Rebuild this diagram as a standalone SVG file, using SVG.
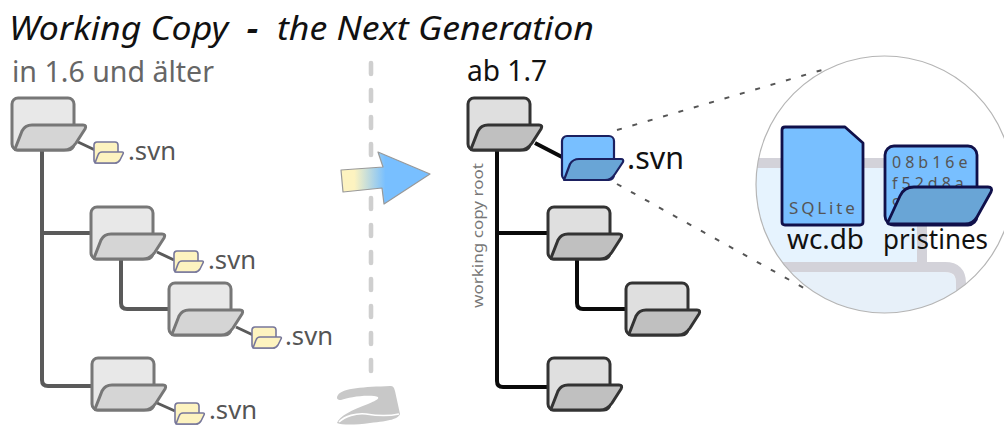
<svg xmlns="http://www.w3.org/2000/svg" width="1004" height="426" viewBox="0 0 1004 426">
<style>
text{font-family:"Noto Sans","Open Sans","DejaVu Sans",sans-serif}
.g1{fill:#e8e8e8;stroke:#777;stroke-width:3}
.g2{fill:#d5d5d5;stroke:#777;stroke-width:3;stroke-linejoin:round}
.d1{fill:#dfdfdf;stroke:#333;stroke-width:3}
.d2{fill:#c0c0c0;stroke:#333;stroke-width:3;stroke-linejoin:round}
.y1{fill:#fdf3c0;stroke:#77779a;stroke-width:1.6}
.y2{fill:#fdf3c0;stroke:#77779a;stroke-width:1.6;stroke-linejoin:round}
.b1{fill:#78bfff;stroke:#1b2060;stroke-width:2.2}
.b2{fill:#69a5d6;stroke:#1b2060;stroke-width:2.2;stroke-linejoin:round}
.n1{fill:#78bfff;stroke:#10104a;stroke-width:2.8;stroke-linejoin:round}
.n2{fill:#69a5d6;stroke:#10104a;stroke-width:2.8;stroke-linejoin:round}
.cl{fill:none;stroke:#5a5a5a;stroke-width:4;stroke-linejoin:round}
.cs{fill:none;stroke:#5a5a5a;stroke-width:3}
.cr{fill:none;stroke:#0a0a0a;stroke-width:4;stroke-linejoin:round}
.dot{fill:none;stroke:#555;stroke-width:2;stroke-dasharray:5 11}
.sv{font-size:25px;fill:#555}
.hex{font-size:16px;fill:#555;letter-spacing:4px}
.lbl{font-size:28px;fill:#111}
</style>
<defs>
<linearGradient id="arrowGrad" x1="341" x2="430" y1="0" y2="0" gradientUnits="userSpaceOnUse">
<stop offset="0.15" stop-color="#fdf3c0"/><stop offset="0.5" stop-color="#78bfff"/>
</linearGradient>
<clipPath id="lens"><circle cx="884.5" cy="184.5" r="128.5"/></clipPath>
</defs>

<g id="title">
<text x="9" y="40" font-size="33" font-style="italic" fill="#111" xml:space="preserve" textLength="585" lengthAdjust="spacingAndGlyphs">Working Copy  <tspan font-weight="700">-</tspan>  the Next Generation</text>
<text x="12" y="82" font-size="29" fill="#666" textLength="202" lengthAdjust="spacingAndGlyphs">in 1.6 und älter</text>
<text x="467" y="81" font-size="29" fill="#111" textLength="80" lengthAdjust="spacingAndGlyphs">ab 1.7</text>
</g>

<g id="divider">
<path d="M371 63V378" fill="none" stroke="#cfcfcf" stroke-width="4.6" stroke-linecap="round" stroke-dasharray="11 16"/>
<path d="M338 395C342 388 365 387 390 386C393 386 394 387 395 391L400 414C398 419 390 421 370 423C355 425 342 425 337 423C339 416 352 410 368 404C378 400 382 397 374 396C360 395 348 398 341 400C337 400 336 398 338 395Z" fill="#c8c8c8"/>
<path d="M339 422C345 416 356 413 366 414C378 416 390 416 399 414" fill="none" stroke="#fff" stroke-width="1.6"/>
</g>

<g id="connectors">
<path class="cl" d="M42 150V380Q42 386 48 386H92M42 233H91M121 258V303Q121 309 127 309H169"/>
<path class="cs" d="M78 142L95 150M157 252L174 260M236 327L253 335M157 403L175 411"/>
<path class="cr" d="M497 150V381Q497 387 503 387H548M497 233H548M577 258V303Q577 309 583 309H626M535 143L562 157"/>
<path class="dot" d="M617 130L822 70M617 184L804 288"/>
</g>

<g id="arrow">
<path d="M341 170L383 167L378 152L430 174L384 204L382 188L343 192Z" fill="url(#arrowGrad)" stroke="#999" stroke-width="1.2" stroke-linejoin="round"/>
</g>

<g id="old-root" transform="translate(12 98)"><rect class="g1" width="62" height="52" rx="6"/><path class="g2" d="M3 51L10 33Q13 27 20 27H71Q75 27 73 31L64 45Q59 52 52 52H5Q3 52 3 51Z"/></g>
<g id="old-a" transform="translate(91 207)"><rect class="g1" width="62" height="52" rx="6"/><path class="g2" d="M3 51L10 33Q13 27 20 27H71Q75 27 73 31L64 45Q59 52 52 52H5Q3 52 3 51Z"/></g>
<g id="old-b" transform="translate(169 283)"><rect class="g1" width="62" height="52" rx="6"/><path class="g2" d="M3 51L10 33Q13 27 20 27H71Q75 27 73 31L64 45Q59 52 52 52H5Q3 52 3 51Z"/></g>
<g id="old-c" transform="translate(92 358)"><rect class="g1" width="62" height="52" rx="6"/><path class="g2" d="M3 51L10 33Q13 27 20 27H71Q75 27 73 31L64 45Q59 52 52 52H5Q3 52 3 51Z"/></g>

<g id="svn-root"><g transform="translate(94 142)"><rect class="y1" width="24" height="21" rx="3"/><path class="y2" d="M1 21L4 13Q5 10 8 10H28Q30 10 29 12L26 18Q24 21 21 21Z"/></g><text class="sv" x="128" y="160" textLength="48" lengthAdjust="spacingAndGlyphs">.svn</text></g>
<g id="svn-a"><g transform="translate(174 251)"><rect class="y1" width="24" height="21" rx="3"/><path class="y2" d="M1 21L4 13Q5 10 8 10H28Q30 10 29 12L26 18Q24 21 21 21Z"/></g><text class="sv" x="208" y="269" textLength="48" lengthAdjust="spacingAndGlyphs">.svn</text></g>
<g id="svn-b"><g transform="translate(252 327)"><rect class="y1" width="24" height="21" rx="3"/><path class="y2" d="M1 21L4 13Q5 10 8 10H28Q30 10 29 12L26 18Q24 21 21 21Z"/></g><text class="sv" x="285" y="345" textLength="48" lengthAdjust="spacingAndGlyphs">.svn</text></g>
<g id="svn-c"><g transform="translate(175 403)"><rect class="y1" width="24" height="21" rx="3"/><path class="y2" d="M1 21L4 13Q5 10 8 10H28Q30 10 29 12L26 18Q24 21 21 21Z"/></g><text class="sv" x="209" y="418.5" textLength="48" lengthAdjust="spacingAndGlyphs">.svn</text></g>

<g id="new-root" transform="translate(468 98)"><rect class="d1" width="62" height="52" rx="6"/><path class="d2" d="M3 51L10 33Q13 27 20 27H71Q75 27 73 31L64 45Q59 52 52 52H5Q3 52 3 51Z"/></g>
<g id="new-a" transform="translate(548 207)"><rect class="d1" width="62" height="52" rx="6"/><path class="d2" d="M3 51L10 33Q13 27 20 27H71Q75 27 73 31L64 45Q59 52 52 52H5Q3 52 3 51Z"/></g>
<g id="new-b" transform="translate(626 283)"><rect class="d1" width="62" height="52" rx="6"/><path class="d2" d="M3 51L10 33Q13 27 20 27H71Q75 27 73 31L64 45Q59 52 52 52H5Q3 52 3 51Z"/></g>
<g id="new-c" transform="translate(548 358)"><rect class="d1" width="62" height="52" rx="6"/><path class="d2" d="M3 51L10 33Q13 27 20 27H71Q75 27 73 31L64 45Q59 52 52 52H5Q3 52 3 51Z"/></g>

<g id="new-svn">
<g transform="translate(562 136)"><rect class="b1" width="52" height="44" rx="5"/><path class="b2" d="M2 44L8 28Q11 23 17 23H59Q62 23 61 26L53 38Q49 44 43 44Z"/></g>
<text x="627" y="169" font-size="31" fill="#111" textLength="57" lengthAdjust="spacingAndGlyphs">.svn</text>
</g>

<text id="wc-root-label" transform="translate(483 308) rotate(-90)" font-size="14.5" fill="#777" textLength="145" lengthAdjust="spacingAndGlyphs">working copy root</text>

<g id="lens-view">
<circle cx="884.5" cy="184.5" r="128.5" fill="#fff"/>
<g clip-path="url(#lens)">
<rect x="750" y="163" width="172" height="104" fill="#e6f3fe"/>
<path d="M750 163H922V267" fill="none" stroke="#d3d2d9" stroke-width="10"/>
<path d="M770 272H945Q956 272 956 283V320H770Z" fill="#e7f0f9"/>
<path d="M770 267H945Q961 267 961 283V320" fill="none" stroke="#d3d2d9" stroke-width="10"/>
</g>
<circle cx="884.5" cy="184.5" r="128.5" fill="none" stroke="#b5b5b5" stroke-width="1.2"/>
</g>

<g id="wc-db">
<path class="n1" d="M785 127H845L863 143V222Q863 225 860 225H785Q782 225 782 222V130Q782 127 785 127Z"/>
<text x="789" y="214" font-size="17" fill="#555" letter-spacing="2.2" textLength="68">SQLite</text>
<text class="lbl" x="787" y="249" textLength="77" lengthAdjust="spacingAndGlyphs">wc.db</text>
</g>

<g id="pristines">
<rect class="n1" x="885" y="146" width="92" height="79" rx="9"/>
<text class="hex" x="892" y="168">08b16e</text>
<text class="hex" x="892" y="189">f52d8a</text>
<text class="hex" x="892" y="210">9</text>
<path class="n2" d="M888 222L900 196Q904 187 914 187H988Q993 187 991 192L977 217Q973 224 965 224H890Q887 224 888 222Z"/>
<text class="lbl" x="883" y="249" textLength="105" lengthAdjust="spacingAndGlyphs">pristines</text>
</g>
</svg>
